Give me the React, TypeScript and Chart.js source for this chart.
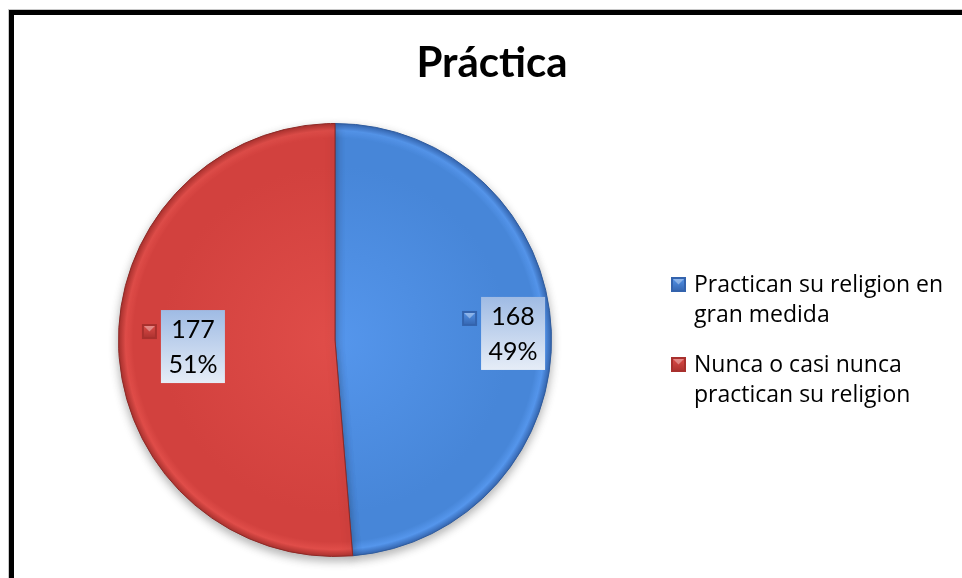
import React, { useEffect, useRef } from "react";
import { Chart, registerables } from "chart.js";

Chart.register(...registerables);

const chartTitle = "Práctica";
const categories = [
  "Practican su religion en gran medida",
  "Nunca o casi nunca practican su religion",
];
const legendLines = [
  ["Practican su religion en", "gran medida"],
  ["Nunca o casi nunca", "practican su religion"],
];
const values = [168, 177];
const baseColors = ["#4786d8", "#d2413e"];
const lightColors = ["#5596ec", "#e04d49"];
const darkColors = ["#3363ad", "#a8302d"];
const FONT = "Lato, 'Open Sans', sans-serif";
const LEGEND_FONT = "'Open Sans', Lato, sans-serif";

function sliceGradient(ctx: any, i: number) {
  const chart = ctx.chart;
  const area = chart.chartArea;
  if (!area) return baseColors[i];
  const cx = (area.left + area.right) / 2;
  const cy = (area.top + area.bottom) / 2;
  const r = Math.min(area.right - area.left, area.bottom - area.top) / 2;
  const g = chart.ctx.createRadialGradient(cx, cy, 0, cx, cy, r);
  g.addColorStop(0, lightColors[i]);
  g.addColorStop(0.8, baseColors[i]);
  g.addColorStop(0.93, baseColors[i]);
  g.addColorStop(0.965, lightColors[i]);
  g.addColorStop(1, darkColors[i]);
  return g;
}

function drawMarker(c: CanvasRenderingContext2D, x: number, y: number, s: number, i: number) {
  const g = c.createLinearGradient(x, y, x, y + s);
  g.addColorStop(0, lightColors[i]);
  g.addColorStop(1, darkColors[i]);
  c.fillStyle = darkColors[i];
  c.fillRect(x, y, s, s);
  c.fillStyle = g;
  c.fillRect(x + 2, y + 2, s - 4, s - 4);
  c.fillStyle = "rgba(255,255,255,0.35)";
  c.beginPath();
  c.moveTo(x + 2, y + 2);
  c.lineTo(x + s - 2, y + 2);
  c.lineTo(x + s / 2, y + s / 2);
  c.closePath();
  c.fill();
}

const decorPlugin = {
  id: "decor",
  beforeDraw(chart: any) {
    const c = chart.ctx as CanvasRenderingContext2D;
    c.save();
    c.fillStyle = "#ffffff";
    c.fillRect(0, 0, chart.width, chart.height);
    c.fillStyle = "#c8c8c8";
    c.fillRect(8, 9, chart.width, 1);
    c.fillRect(8, 9, 1, chart.height);
    c.fillStyle = "#000000";
    c.fillRect(9, 10, chart.width, 5);
    c.fillRect(9, 10, 5, chart.height);
    c.fillStyle = "#000000";
    c.font = `bold 42px ${FONT}`;
    c.textAlign = "center";
    c.textBaseline = "alphabetic";
    c.fillText(chartTitle, 492, 77);
    c.restore();
  },
  beforeDatasetsDraw(chart: any) {
    const c = chart.ctx as CanvasRenderingContext2D;
    c.save();
    c.shadowColor = "rgba(0,0,0,0.3)";
    c.shadowBlur = 10;
    c.shadowOffsetY = 4;
  },
  afterDatasetsDraw(chart: any) {
    const c = chart.ctx as CanvasRenderingContext2D;
    c.restore();
    const meta = chart.getDatasetMeta(0);
    const total = values.reduce((a, b) => a + b, 0);
    meta.data.forEach((arc: any, i: number) => {
      const { x, y, startAngle, endAngle, outerRadius } = arc.getProps(
        ["x", "y", "startAngle", "endAngle", "outerRadius"],
        true
      );
      const mid = (startAngle + endAngle) / 2;
      const rr = outerRadius * 0.74;
      const px = x + Math.cos(mid) * rr;
      const py = y + Math.sin(mid) * rr;
      const ms = 15;
      const gap = 4;
      const bw = 64;
      const bh = 73;
      const bx = px - bw / 2 + 18;
      const by = py - bh / 2;
      const left = bx - gap - ms;
      c.save();
      const g = c.createLinearGradient(0, by, 0, by + bh);
      g.addColorStop(0, "#9fbbe4");
      g.addColorStop(1, "#e6edf7");
      c.fillStyle = g;
      c.fillRect(bx, by, bw, bh);
      drawMarker(c, left, by + 14, ms, i);
      c.fillStyle = "#000000";
      c.font = `25px ${FONT}`;
      c.textAlign = "center";
      c.textBaseline = "middle";
      c.fillText(String(values[i]), bx + bw / 2, by + 20);
      c.fillText(Math.round((values[i] / total) * 100) + "%", bx + bw / 2, by + 55);
      c.restore();
    });
  },
  afterDraw(chart: any) {
    const c = chart.ctx as CanvasRenderingContext2D;
    c.save();
    c.font = `23px ${LEGEND_FONT}`;
    c.textAlign = "left";
    c.textBaseline = "alphabetic";
    legendLines.forEach((lines, i) => {
      const base = 292 + i * 80;
      drawMarker(c, 671, base - 15, 15, i);
      lines.forEach((t, j) => {
        c.fillStyle = "#000000";
        c.fillText(t, 694, base + j * 30);
      });
    });
    c.restore();
  },
};

export default function App() {
  const ref = useRef<HTMLCanvasElement | null>(null);
  useEffect(() => {
    if (!ref.current) return;
    const chart = new Chart(ref.current, {
      type: "pie",
      data: {
        labels: categories,
        datasets: [
          {
            data: values,
            backgroundColor: (ctx: any) => sliceGradient(ctx, ctx.dataIndex),
            borderColor: ["#2f5c9e", "#8e2a27"],
            borderWidth: 1,
          },
        ],
      },
      options: {
        animation: false,
        responsive: false,
        layout: { padding: { left: 118, right: 410, top: 123, bottom: 21 } },
        plugins: {
          legend: { display: false },
          title: { display: false },
          tooltip: { enabled: false },
        },
      },
      plugins: [decorPlugin],
    });
    return () => chart.destroy();
  }, []);
  return (
    <canvas
      ref={ref}
      width={962}
      height={578}
      style={{ position: "fixed", left: 0, top: 0, width: 962, height: 578 }}
    />
  );
}
